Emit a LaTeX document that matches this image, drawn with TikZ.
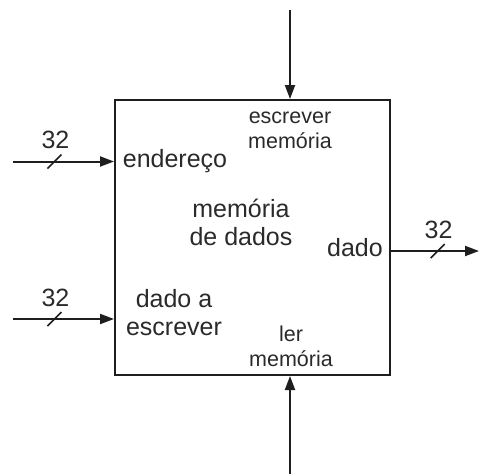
\documentclass[tikz,border=0pt]{standalone}
\usepackage{fontspec}
\setmainfont{Liberation Sans}
\usetikzlibrary{arrows.meta,calc}
\definecolor{ink}{HTML}{1E1E1E}
\definecolor{txt}{HTML}{2A2A2A}
\tikzset{
  sig/.style={draw=ink, line width=2pt, -{Triangle[length=14pt,width=10pt]}},
  slashline/.style={draw=ink, line width=1.6pt},
  big/.style={text=txt, font=\fontsize{25}{28}\selectfont, inner sep=0pt, align=center},
  small/.style={text=txt, font=\fontsize{21.5}{25}\selectfont, inner sep=0pt, align=center},
  boxst/.style={draw=ink, line width=2pt, minimum width=275pt, minimum height=275pt, inner sep=0pt}
}
\begin{document}
\begin{tikzpicture}[x=1pt,y=-1pt]
\useasboundingbox (0,0) rectangle (479,474);
\node[boxst] (box) at (252.5,237.5) {};
% free ends
\coordinate (wtop) at (290,10);
\coordinate (rbot) at (290,474);
\coordinate (a1) at (13,161.5);
\coordinate (a2) at (13,319);
\coordinate (o1) at (479,251);
% control inputs
\draw[sig] (wtop) -- (wtop |- box.north);
\draw[sig] (rbot) -- (rbot |- box.south);
% data inputs
\draw[sig] (a1) -- coordinate[pos=0.41] (s1) (a1 -| box.west);
\draw[sig] (a2) -- coordinate[pos=0.41] (s2) (a2 -| box.west);
\draw[sig] (o1 -| box.east) -- coordinate[pos=0.53] (s3) (o1);
\foreach \s in {s1,s2,s3} {
  \draw[slashline] ($(\s)+(-7,7)$) -- ($(\s)+(7,-7)$);
  \node[big, anchor=base] at ($(\s)+(1,-13)$) {32};
}
% labels inside
\node[big] (end) at (175,161) {endereço};
\node[big] (mem) at (241,222) {memória\\de dados};
\node[big, anchor=east] (dado) at (383,248) {dado};
\node[big] (dae) at (174,313) {dado a\\escrever};
\node[small] (esc) at (290,130) {escrever\\memória};
\node[small] (ler) at (291,346) {ler\\memória};
\end{tikzpicture}
\end{document}
